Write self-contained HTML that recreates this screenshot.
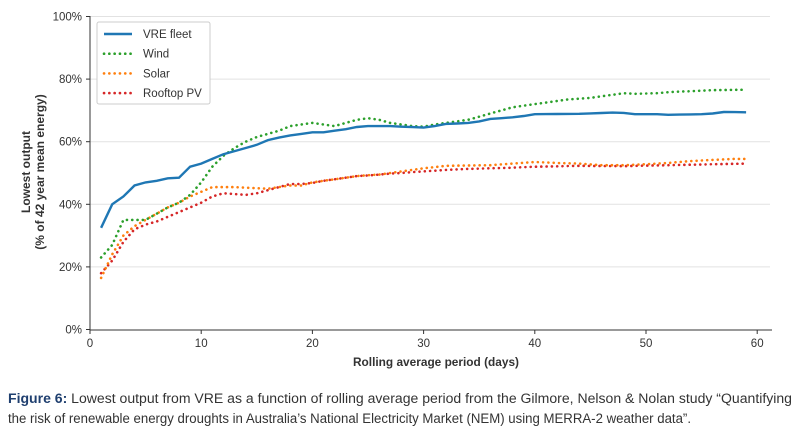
<!DOCTYPE html>
<html><head><meta charset="utf-8"><style>
body{margin:0;width:800px;height:440px;background:#fff;overflow:hidden;font-family:"Liberation Sans",sans-serif}
svg text{font-family:"Liberation Sans",sans-serif;fill:#333}
</style></head><body>
<svg id="s" width="800" height="440" style="position:absolute;left:0;top:0"></svg>
<script>
const X=d=>90+d*11.12, Y=v=>329.5-v*3.13;
let h='';
for(let v=20;v<=100;v+=20){h+=`<line x1="90" x2="770" y1="${Y(v)}" y2="${Y(v)}" stroke="#e2e2e2" stroke-width="1"/>`}
for(let v=0;v<=100;v+=20){h+=`<line x1="86" x2="90" y1="${Y(v)}" y2="${Y(v)}" stroke="#333"/><text x="82" y="${Y(v)+4}" font-size="11.5" text-anchor="end">${v}%</text>`}
for(let d=0;d<=60;d+=10){h+=`<line x1="${X(d)}" x2="${X(d)}" y1="330" y2="334" stroke="#333"/><text x="${X(d)}" y="347" font-size="11.5" text-anchor="middle">${d}</text>`}
h+=`<line x1="90" x2="90" y1="16" y2="330" stroke="#333"/><line x1="90" x2="772" y1="330" y2="330" stroke="#333"/>`;
h+=`<text x="353" y="366" font-size="12" font-weight="bold" textLength="166" lengthAdjust="spacingAndGlyphs">Rolling average period (days)</text>`;
h+=`<text transform="translate(30,172) rotate(-90)" font-size="12" font-weight="bold" text-anchor="middle">Lowest output</text>`;
h+=`<text transform="translate(44,172) rotate(-90)" font-size="12" font-weight="bold" text-anchor="middle">(% of 42 year mean energy)</text>`;
h+=`<text x="8" y="403" font-size="13.5" fill="#222" textLength="784" lengthAdjust="spacingAndGlyphs"><tspan font-weight="bold" fill="#1f3f6f">Figure 6:</tspan> Lowest output from VRE as a function of rolling average period from the Gilmore, Nelson &amp; Nolan study “Quantifying</text>`;
h+=`<text x="8" y="423" font-size="13.5" fill="#222" textLength="683" lengthAdjust="spacingAndGlyphs">the risk of renewable energy droughts in Australia’s National Electricity Market (NEM) using MERRA-2 weather data”.</text>`;
function interp(pts){const o=[];for(let i=0;i<pts.length-1;i++){const[a,va]=pts[i],[b,vb]=pts[i+1];for(let d=a;d<b;d++)o.push([d,va+(vb-va)*(d-a)/(b-a)])}o.push(pts[pts.length-1]);return o}
const vre=[[1,32.5],[2,40],[3,42.5],[4,46],[5,47],[6,47.5],[7,48.3],[8,48.5],[9,52],[10,53],[11,54.5],[12,56],[13,57],[14,58],[15,59],[16,60.5],[17,61.3],[18,62],[19,62.5],[20,63],[21,63],[22,63.5],[23,64],[24,64.7],[25,65],[27,65],[28,64.8],[30,64.5],[31,65],[32,65.7],[33,65.8],[34,66],[35,66.5],[36,67.3],[37,67.5],[38,67.8],[39,68.2],[40,68.8],[44,68.9],[47,69.3],[48,69.2],[49,68.8],[51,68.8],[52,68.6],[55,68.8],[56,69],[57,69.5],[59,69.4]];
const wind=[[1,23],[2,27],[3,35],[5,35],[6,37],[7,39],[8,40.5],[9,43],[10,47],[11,52],[12,55.5],[13,58],[14,60],[15,61.5],[16,62.5],[17,63.5],[18,65],[19,65.5],[20,66],[21,65.5],[22,65],[23,66],[24,67],[25,67.5],[26,67],[27,66],[28,65.5],[29,65],[30,64.8],[31,65.5],[32,66],[33,66.5],[34,67],[35,68],[36,69],[37,70],[38,71],[39,71.5],[40,72],[41,72.5],[42,73],[43,73.5],[45,74],[46,74.5],[47,75],[48,75.5],[49,75.3],[51,75.5],[52,75.8],[53,76],[55,76.3],[56,76.5],[59,76.6]];
const solar=[[1,16.5],[2,24],[3,30],[4,33],[5,35],[6,37],[7,39],[8,40.5],[9,42.5],[10,44],[11,45.5],[13,45.5],[14,45.3],[16,45],[17,45.5],[18,46],[19,46],[20,47],[21,47.5],[22,48],[23,48.5],[24,49],[25,49.3],[26,49.5],[27,50],[28,50.5],[29,51],[30,51.5],[32,52.3],[36,52.5],[38,53],[40,53.5],[42,53.2],[44,53],[46,52.5],[48,52.5],[50,52.8],[52,53.2],[54,53.8],[56,54.2],[58,54.5],[59,54.5]];
const roof=[[1,18],[2,22],[3,28],[4,32],[5,33.5],[6,34.5],[7,36],[8,37.5],[9,39],[10,40.5],[11,42.5],[12,43.5],[14,43],[15,43.5],[16,44.5],[17,45.5],[18,46.5],[19,46.5],[20,46.8],[21,47.5],[22,48],[23,48.5],[24,49],[25,49.2],[26,49.5],[27,49.8],[28,50],[29,50.3],[30,50.5],[32,51],[34,51.3],[36,51.5],[38,51.7],[40,52],[44,52.3],[48,52.2],[52,52.5],[56,52.8],[59,53]];
const P=p=>'M'+interp(p).map(([d,v])=>X(d).toFixed(1)+','+Y(v).toFixed(1)).join('L');
const dot='stroke-width="2.6" stroke-dasharray="0.1 5.2" stroke-linecap="round" fill="none"';
h+=`<path d="${P(roof)}" stroke="#d62728" ${dot}/>`;
h+=`<path d="${P(solar)}" stroke="#ff7f0e" ${dot}/>`;
h+=`<path d="${P(wind)}" stroke="#2ca02c" ${dot}/>`;
h+=`<path d="${P(vre)}" stroke="#1f77b4" stroke-width="2.4" fill="none"/>`;
h+=`<rect x="97" y="22" width="113" height="82" fill="#fff" stroke="#ccc" rx="2"/>`;
const L=[['VRE fleet','#1f77b4',0],['Wind','#2ca02c',1],['Solar','#ff7f0e',1],['Rooftop PV','#d62728',1]];
L.forEach(([t,c,d],i)=>{const y=34+i*19.7;h+=`<line x1="104" x2="132" y1="${y}" y2="${y}" stroke="${c}" ${d?dot:'stroke-width="2.4"'}/><text x="143" y="${y+4}" font-size="11.5">${t}</text>`});
document.getElementById('s').innerHTML=h;
</script>
</body></html>
